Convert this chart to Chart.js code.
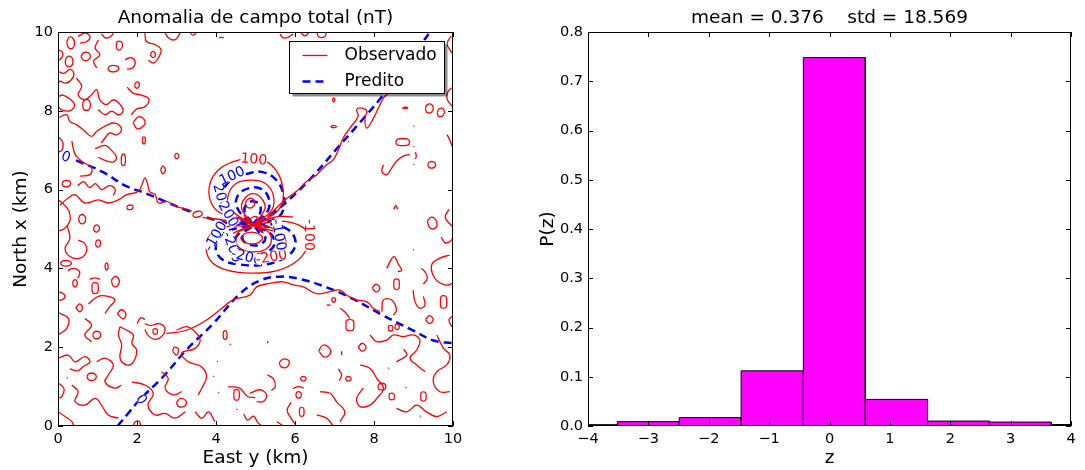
<!DOCTYPE html>
<html>
<head>
<meta charset="utf-8">
<script src="https://cdn.jsdelivr.net/npm/chart.js@4.4.1/dist/chart.umd.min.js"></script>
<style>
    body { margin: 0; background: #fff; overflow: hidden; }
    #wrap { position: relative; width: 1085px; height: 470px; }
    canvas { position: absolute; top: 0; }
</style>
</head>
<body>
<div id="wrap">
    <canvas id="contourChart" width="530" height="470" style="left:0"></canvas>
    <canvas id="histChart" width="555" height="470" style="left:530px"></canvas>
</div>
<script>
// ---- left panel: contour lines (East y, North x in km) ----
const mapTicks = [0, 2, 4, 6, 8, 10];

// observed anomaly contours (red, solid)
const observado = [
    // zero contour west of the source
    [[0.05,5.6],[0.25,5.78],[0.43,5.87],[0.68,5.66],[1.02,5.74],[1.27,5.66],[1.53,5.74],[1.74,5.87],[2.03,5.95],[2.13,6.14],[2.2,6.3],[2.27,6.14],[2.32,5.95],[2.46,5.87],[2.54,5.66],[2.75,5.7],[3.0,5.57],[3.3,5.49],[3.64,5.3],[3.97,5.26],[4.31,5.2],[4.65,5.12]],
    // zero contour north-east
    [[5.3,5.3],[5.7,5.7],[6.04,5.96],[6.3,6.21],[6.55,6.38],[6.8,6.63],[6.97,6.76],[7.1,7.01],[7.22,7.31],[7.39,7.56],[7.6,7.86],[7.56,8.03],[7.69,8.07],[7.82,7.99],[7.77,7.82],[7.82,7.56],[7.99,7.82],[8.11,8.07],[8.24,8.33],[8.36,8.45],[8.5,8.7]],
    // zero contour south
    [[2.74,2.35],[3.25,2.43],[3.76,2.69],[4.1,2.95],[4.43,3.2],[4.86,3.32],[5.03,3.53],[5.37,3.62],[5.7,3.66],[5.96,3.58],[6.21,3.53],[6.55,3.36],[6.89,3.41],[7.14,3.45],[7.31,3.32],[7.56,3.2],[7.82,3.15],[7.99,2.98],[8.15,2.9]],
    // dipole, positive lobe
    [[4.9,5.12],[4.5,5.3],[4.06,5.44],[3.85,5.74],[3.85,6.16],[4.06,6.5],[4.44,6.71],[4.86,6.79],[5.28,6.71],[5.57,6.41],[5.7,5.99],[5.66,5.61],[5.45,5.36],[5.05,5.15]],
    [[4.9,5.12],[4.35,5.52],[4.31,5.86],[4.52,6.16],[4.9,6.24],[5.24,6.16],[5.45,5.86],[5.41,5.48],[5.0,5.14]],
    [[4.92,5.13],[4.65,5.52],[4.73,5.78],[4.94,5.9],[5.15,5.78],[5.24,5.52],[4.98,5.14]],
    [[4.74,5.65],[4.8,5.75],[4.92,5.77],[4.98,5.65],[4.92,5.55],[4.8,5.55],[4.74,5.65]],
    // dipole, negative lobe
    [[4.9,5.08],[4.2,5.05],[3.85,4.85],[3.75,4.5],[3.9,4.15],[4.3,3.95],[4.9,3.88],[5.5,3.93],[6.0,4.15],[6.3,4.5],[6.35,4.85],[6.1,5.1],[5.6,5.2],[5.0,5.1]],
    [[4.9,5.06],[4.45,4.9],[4.3,4.65],[4.4,4.4],[4.7,4.22],[5.1,4.18],[5.5,4.3],[5.75,4.55],[5.7,4.85],[5.35,5.05],[4.95,5.08]],
    [[4.92,5.05],[4.6,4.95],[4.5,4.75],[4.6,4.52],[4.9,4.42],[5.25,4.48],[5.4,4.7],[5.3,4.95],[4.95,5.06]],
    [[4.62,4.77],[4.72,4.88],[4.9,4.92],[5.08,4.88],[5.18,4.77],[5.08,4.66],[4.9,4.62],[4.72,4.66],[4.62,4.77]],
    // crowded lines through the centre
    [[4.55,5.3],[4.8,5.15],[5.1,5.05],[5.45,4.95]],
    [[4.6,4.95],[4.9,5.08],[5.2,5.2],[5.5,5.3]],
    [[4.7,5.35],[4.95,5.1],[5.2,4.9]],
    [[5.25,5.22],[5.6,5.32],[5.95,5.3]],
    [[4.75,5.0],[4.85,5.25],[5.05,5.3],[5.15,5.0]],
    // noise, north-west
    [[0.22,9.72],[0.27,9.86],[0.36,9.86],[0.42,9.72],[0.37,9.59],[0.27,9.6],[0.22,9.72]],
    [[0.51,9.89],[0.68,9.97],[0.81,9.89],[0.73,9.76],[0.56,9.72]],
    [[0.18,9.25],[0.22,9.36],[0.33,9.37],[0.38,9.25],[0.33,9.13],[0.22,9.14],[0.18,9.25]],
    [[0.58,9.38],[0.64,9.47],[0.76,9.48],[0.82,9.38],[0.76,9.29],[0.64,9.29],[0.58,9.38]],
    [[1.02,9.8],[0.94,9.59],[1.06,9.42],[0.9,9.26],[0.98,9.09]],
    [[1.47,9.65],[1.5,9.75],[1.6,9.75],[1.63,9.65],[1.58,9.55],[1.5,9.56],[1.47,9.65]],
    [[1.26,9.07],[1.32,9.14],[1.48,9.14],[1.54,9.07],[1.47,9.0],[1.32,9.0],[1.26,9.07]],
    [[2.2,9.97],[2.24,9.76],[2.46,9.68],[2.61,9.55],[2.54,9.34],[2.41,9.21],[2.29,9.29]],
    [[2.34,9.42],[2.38,9.5],[2.45,9.48],[2.46,9.4],[2.4,9.35],[2.34,9.42]],
    [[1.94,8.65],[1.97,8.72],[2.04,8.72],[2.06,8.65],[2.02,8.58],[1.96,8.59],[1.94,8.65]],
    [[0.47,8.83],[0.6,8.62],[0.51,8.41],[0.68,8.28],[0.85,8.41],[0.98,8.54],[1.06,8.28],[1.23,8.16],[1.4,8.28],[1.57,8.16],[1.65,7.99],[1.53,7.9],[1.36,7.99],[1.19,7.9],[1.02,8.03]],
    [[0.62,8.15],[0.66,8.27],[0.78,8.27],[0.82,8.15],[0.78,8.03],[0.66,8.03],[0.62,8.15]],
    [[0.0,7.82],[0.22,7.9],[0.3,7.73],[0.47,7.65],[0.68,7.48],[0.85,7.35],[0.98,7.48],[1.1,7.56],[1.27,7.65],[1.4,7.69],[1.53,7.65],[1.61,7.52],[1.48,7.39],[1.31,7.44],[1.19,7.31],[1.1,7.18]],
    [[0.94,7.04],[1.19,7.12],[1.36,6.99],[1.48,6.82],[1.4,6.7],[1.19,6.74],[1.02,6.82]],
    [[1.6,6.75],[1.62,6.88],[1.68,6.9],[1.71,6.75],[1.68,6.62],[1.62,6.62],[1.6,6.75]],
    [[2.14,7.25],[2.15,7.33],[2.2,7.33],[2.21,7.25],[2.2,7.17],[2.15,7.17],[2.14,7.25]],
    [[1.74,5.55],[1.78,5.6],[1.88,5.6],[1.9,5.55],[1.86,5.5],[1.77,5.5],[1.74,5.55]],
    [[0.52,5.25],[0.56,5.35],[0.66,5.35],[0.7,5.25],[0.66,5.15],[0.56,5.15],[0.52,5.25]],
    [[0.1,6.15],[0.15,6.22],[0.28,6.22],[0.32,6.15],[0.27,6.08],[0.14,6.08],[0.1,6.15]],
    [[0.0,5.75],[0.15,5.62],[0.28,5.45],[0.3,5.2],[0.15,5.0],[0.0,4.95]],
    [[0.35,7.23],[0.43,6.9],[0.6,6.72],[0.85,6.55],[0.81,6.38],[0.56,6.34]],
    [[0.0,8.35],[0.12,8.4],[0.3,8.3],[0.42,8.15],[0.3,8.0],[0.1,8.02],[0.0,8.1]],
    [[0.9,5.01],[0.94,5.09],[1.02,5.09],[1.05,5.01],[1.0,4.93],[0.93,4.94],[0.9,5.01]],
    [[0.95,4.63],[0.98,4.71],[1.06,4.71],[1.08,4.63],[1.04,4.55],[0.97,4.56],[0.95,4.63]],
    [[0.0,9.55],[0.1,9.5],[0.12,9.4],[0.05,9.3],[0.0,9.28]],
    [[0.0,9.0],[0.15,8.95],[0.3,9.05],[0.4,8.95],[0.35,8.8],[0.2,8.7],[0.05,8.75],[0.0,8.7]],
    [[1.1,9.95],[1.2,9.85],[1.35,9.9],[1.4,10.0]],
    [[1.7,9.3],[1.85,9.35],[1.95,9.25],[1.9,9.1],[1.75,9.05]],
    [[2.7,10.0],[2.8,9.85],[2.95,9.8],[3.05,9.9],[3.1,10.0]],
    [[1.75,8.6],[1.9,8.45],[2.1,8.4],[2.3,8.3],[2.2,8.1],[2.0,8.05],[1.85,7.9]],
    [[1.9,7.7],[2.0,7.55],[2.15,7.6],[2.2,7.75],[2.05,7.85],[1.9,7.7]],
    [[0.0,7.35],[0.12,7.2],[0.1,7.0],[0.0,6.95]],
    [[0.5,6.1],[0.65,6.2],[0.8,6.05],[0.95,6.15],[1.1,6.0],[1.3,6.1],[1.45,6.0],[1.4,5.85]],
    [[2.6,6.5],[2.65,6.6],[2.72,6.5],[2.65,6.4],[2.6,6.5]],
    [[2.95,6.85],[3.0,6.92],[3.06,6.85],[3.0,6.78],[2.95,6.85]],
    // noise, north edge
    [[3.35,9.97],[3.42,9.92],[3.5,9.97]],
    [[4.08,9.86],[4.2,9.86]],
    [[5.62,9.95],[5.7,9.85],[5.85,9.88],[5.95,9.95]],
    [[6.15,9.98],[6.25,9.9],[6.35,9.98]],
    [[6.55,10.0],[6.6,9.88],[6.75,9.88],[6.8,10.0]],
    // noise, north-east
    [[6.95,8.28],[6.97,8.33],[7.01,8.28],[6.97,8.23],[6.95,8.28]],
    [[6.9,7.6],[6.97,7.63],[7.05,7.6],[6.97,7.57],[6.9,7.6]],
    [[7.35,7.21],[7.37,7.23]],
    [[8.72,8.07],[8.78,8.09],[8.85,8.07],[8.78,8.05],[8.72,8.07]],
    [[9.0,7.6],[9.02,7.62]],
    [[9.0,7.08],[9.02,7.1]],
    [[9.3,8.05],[9.34,8.15],[9.46,8.16],[9.5,8.05],[9.45,7.96],[9.34,7.96],[9.3,8.05]],
    [[9.6,7.95],[9.65,8.05],[9.75,8.05],[9.78,7.95],[9.72,7.86],[9.63,7.87],[9.6,7.95]],
    [[10.0,8.6],[9.88,8.5],[9.85,8.3],[9.95,8.15],[10.0,8.1]],
    [[9.95,9.9],[9.85,9.7],[9.95,9.5],[10.0,9.45]],
    [[8.55,7.2],[8.6,7.28],[8.85,7.28],[8.9,7.2],[8.85,7.13],[8.6,7.13],[8.55,7.2]],
    [[8.24,6.63],[8.2,6.46],[8.32,6.38],[8.45,6.55],[8.57,6.72],[8.74,6.85],[8.91,6.89]],
    [[9.36,6.63],[9.4,6.7],[9.52,6.7],[9.56,6.63],[9.52,6.56],[9.4,6.56],[9.36,6.63]],
    [[9.0,6.63],[9.02,6.65]],
    [[9.05,6.95],[9.07,6.85],[9.05,6.78]],
    [[9.85,7.4],[9.92,7.25],[10.0,7.05]],
    [[9.35,5.2],[9.4,5.05],[9.5,5.0],[9.6,5.1],[9.55,5.25],[9.45,5.3],[9.35,5.2]],
    [[9.9,5.5],[9.8,5.3],[9.95,5.1],[10.0,5.05]],
    [[9.7,4.8],[9.8,4.65],[9.95,4.7],[10.0,4.8]],
    [[8.5,5.5],[8.55,5.6],[8.6,5.5]],
    // noise, south-west
    [[0.23,5.1],[0.3,4.76],[0.18,4.51],[0.3,4.3],[0.56,4.26],[0.72,4.43],[0.68,4.63],[0.51,4.72]],
    [[0.06,4.13],[0.12,4.19],[0.28,4.19],[0.34,4.13],[0.28,4.07],[0.12,4.07],[0.06,4.13]],
    [[1.19,4.05],[1.21,4.13],[1.25,4.13],[1.27,4.05],[1.25,3.97],[1.21,3.97],[1.19,4.05]],
    [[0.37,3.62],[0.4,3.7],[0.46,3.7],[0.49,3.62],[0.46,3.54],[0.4,3.54],[0.37,3.62]],
    [[0.86,3.5],[0.88,3.62],[1.0,3.62],[1.02,3.5],[1.0,3.38],[0.88,3.38],[0.86,3.5]],
    [[0.8,3.72],[0.94,3.76],[1.06,3.72]],
    [[0.0,3.4],[0.1,3.38],[0.18,3.3],[0.1,3.2],[0.0,3.2]],
    [[0.77,3.1],[1.02,3.29],[1.27,3.29],[1.44,3.2],[1.31,3.03],[1.19,2.86]],
    [[0.0,2.88],[0.26,2.73],[0.22,2.48],[0.0,2.31]],
    [[0.68,2.73],[0.85,2.56],[0.68,2.31],[0.85,2.14]],
    [[0.88,2.31],[0.92,2.39],[1.04,2.39],[1.08,2.31],[1.04,2.23],[0.92,2.23],[0.88,2.31]],
    [[1.57,2.52],[1.74,2.43],[1.91,2.31],[1.87,2.1],[1.99,1.93],[1.91,1.63],[1.74,1.55],[1.57,1.72],[1.61,2.06],[1.53,2.31],[1.57,2.52]],
    [[2.2,2.6],[2.35,2.55],[2.55,2.6],[2.7,2.5],[2.65,2.3],[2.45,2.2],[2.28,2.3],[2.2,2.45]],
    [[2.4,2.4],[2.42,2.46],[2.5,2.46],[2.52,2.4],[2.5,2.34],[2.42,2.34],[2.4,2.4]],
    [[3.0,2.43],[3.26,2.52],[3.47,2.39],[3.6,2.18],[3.47,1.97],[3.13,1.85],[3.3,1.63],[3.64,1.5],[3.76,1.25],[3.64,0.96],[3.55,0.79]],
    [[0.0,1.72],[0.26,1.8],[0.43,1.63],[0.68,1.76],[0.81,1.63],[0.64,1.51],[0.5,1.4],[0.3,1.45]],
    [[0.73,1.25],[0.78,1.33],[0.92,1.33],[0.97,1.25],[0.92,1.17],[0.78,1.17],[0.73,1.25]],
    [[0.98,1.63],[1.19,1.72],[1.4,1.55],[1.27,1.29],[1.19,1.12],[1.44,0.96],[1.61,1.04]],
    [[0.22,1.21],[0.24,1.23]],
    [[0.35,1.04],[0.51,0.87],[0.43,0.62],[0.68,0.53],[0.94,0.7],[1.1,0.53],[1.27,0.28],[1.53,0.2]],
    [[0.0,0.36],[0.18,0.24],[0.35,0.11],[0.4,0.0]],
    [[0.0,1.1],[0.15,0.95],[0.1,0.75],[0.0,0.7]],
    [[1.87,1.12],[2.2,1.04],[2.41,0.83],[2.28,0.53],[2.46,0.28],[2.71,0.32],[2.96,0.2],[3.22,0.36]],
    [[2.62,1.38],[2.79,1.21],[2.71,0.96],[2.92,0.79],[3.13,0.87]],
    [[1.9,0.0],[1.95,0.1],[2.05,0.12],[2.1,0.0]],
    [[0.25,3.95],[0.4,4.0],[0.55,3.9],[0.5,3.75]],
    [[1.35,3.7],[1.45,3.8],[1.55,3.7],[1.5,3.55],[1.4,3.55],[1.35,3.7]],
    [[0.45,3.0],[0.55,3.1],[0.62,3.0],[0.55,2.9],[0.45,3.0]],
    [[1.5,2.85],[1.6,2.95],[1.72,2.85],[1.65,2.72],[1.5,2.85]],
    [[2.0,2.6],[2.1,2.75],[2.2,2.7]],
    [[2.9,1.9],[2.95,2.0],[3.05,1.95],[3.0,1.8],[2.9,1.9]],
    [[3.0,0.6],[3.1,0.7],[3.25,0.62],[3.2,0.5],[3.05,0.5],[3.0,0.6]],
    [[4.03,1.63],[4.05,1.65]],
    [[3.93,1.25],[3.95,1.27]],
    [[4.06,0.83],[4.08,0.85]],
    [[4.45,0.79],[4.47,0.91],[4.57,0.91],[4.59,0.79],[4.57,0.67],[4.47,0.67],[4.45,0.79]],
    [[4.31,1.0],[4.6,0.96],[4.8,0.75],[5.0,0.72]],
    [[4.52,0.41],[4.54,0.43]],
    [[4.7,0.3],[4.8,0.15],[4.95,0.25],[5.05,0.1],[5.15,0.0]],
    [[3.47,0.36],[3.64,0.2],[3.81,0.36],[3.97,0.11]],
    [[4.18,2.31],[4.2,2.41],[4.26,2.41],[4.28,2.31],[4.26,2.21],[4.2,2.21],[4.18,2.31]],
    [[4.35,2.06],[4.37,2.08]],
    // noise, south-east
    [[5.3,2.1],[5.32,2.15]],
    [[5.6,1.6],[5.7,1.7],[5.85,1.65],[5.8,1.5],[5.65,1.5],[5.6,1.6]],
    [[5.3,1.3],[5.45,1.2],[5.5,1.0],[5.4,0.9]],
    [[5.9,0.6],[5.8,0.4],[5.9,0.2],[6.0,0.05]],
    [[8.99,4.46],[9.01,4.48]],
    [[8.32,4.0],[8.5,4.3],[8.62,4.1],[8.7,3.95],[8.6,3.92]],
    [[8.5,3.6],[8.52,3.72],[8.62,3.72],[8.64,3.6],[8.62,3.48],[8.52,3.48],[8.5,3.6]],
    [[9.92,4.34],[9.67,4.26],[9.46,4.09],[9.54,3.75],[9.8,3.58],[10.0,3.62]],
    [[9.2,4.0],[9.3,3.9],[9.35,3.75],[9.25,3.6]],
    [[9.68,3.15],[9.7,3.29],[9.82,3.29],[9.84,3.15],[9.82,3.01],[9.7,3.01],[9.68,3.15]],
    [[8.99,3.45],[9.04,3.15],[9.16,2.99],[9.29,3.07],[9.25,3.29]],
    [[8.2,2.9],[8.24,3.2],[8.45,3.2],[8.57,2.94],[8.49,2.82]],
    [[7.95,3.5],[8.05,3.6],[8.15,3.5],[8.05,3.4],[7.95,3.5]],
    [[10.0,2.8],[9.9,2.7],[9.95,2.55],[10.0,2.5]],
    [[9.3,2.7],[9.4,2.8],[9.5,2.7],[9.4,2.6],[9.3,2.7]],
    [[7.29,2.56],[7.31,2.68],[7.47,2.68],[7.49,2.56],[7.47,2.44],[7.31,2.44],[7.29,2.56]],
    [[7.14,2.99],[7.26,2.9],[7.39,2.73]],
    [[8.36,2.48],[8.38,2.54],[8.46,2.54],[8.48,2.48],[8.46,2.42],[8.38,2.42],[8.36,2.48]],
    [[8.53,2.52],[8.55,2.58],[8.62,2.58],[8.64,2.52],[8.62,2.46],[8.55,2.46],[8.53,2.52]],
    [[6.8,3.07],[6.9,3.07]],
    [[6.93,3.2],[6.95,3.25],[7.01,3.25],[7.03,3.2],[7.0,3.15],[6.95,3.15],[6.93,3.2]],
    [[7.9,2.31],[8.07,2.14],[8.32,2.18],[8.49,2.31],[8.74,2.27],[8.99,2.31],[9.16,2.18],[9.08,1.93],[8.91,1.72],[9.08,1.55],[9.29,1.38]],
    [[8.57,1.63],[8.83,1.8],[8.75,1.95]],
    [[9.59,2.31],[9.76,1.97],[9.92,1.8],[9.84,1.55],[9.59,1.38],[9.5,1.12],[9.67,0.87],[9.92,0.87]],
    [[7.6,2.0],[7.7,2.1],[7.8,2.0],[7.7,1.9],[7.6,2.0]],
    [[6.6,1.9],[6.7,2.05],[6.85,2.0],[6.9,1.85],[6.75,1.75],[6.6,1.9]],
    [[7.18,1.8],[7.18,1.9]],
    [[8.36,1.46],[8.38,1.48]],
    [[6.14,1.2],[6.17,1.25],[6.25,1.25],[6.28,1.2],[6.25,1.15],[6.17,1.15],[6.14,1.2]],
    [[7.28,1.2],[7.31,1.25],[7.39,1.25],[7.42,1.2],[7.39,1.15],[7.31,1.15],[7.28,1.2]],
    [[7.1,1.45],[7.18,1.3],[7.12,1.15]],
    [[6.63,0.87],[6.89,0.83],[7.05,0.62],[7.26,0.36],[7.14,0.11]],
    [[6.02,0.79],[6.05,0.86],[6.13,0.86],[6.16,0.79],[6.13,0.72],[6.05,0.72],[6.02,0.79]],
    [[5.95,0.95],[6.1,1.0],[6.22,0.96]],
    [[6.11,0.36],[6.13,0.46],[6.21,0.46],[6.23,0.36],[6.21,0.26],[6.13,0.26],[6.11,0.36]],
    [[4.86,0.83],[5.11,0.92],[5.28,0.79],[5.2,0.62],[5.03,0.62]],
    [[7.65,1.55],[7.9,1.46],[8.07,1.21],[8.24,0.96],[8.07,0.7],[7.9,0.53],[7.65,0.49],[7.56,0.7],[7.73,0.96]],
    [[8.1,1.0],[8.13,1.07],[8.27,1.07],[8.3,1.0],[8.27,0.93],[8.13,0.93],[8.1,1.0]],
    [[8.38,0.75],[8.4,0.82],[8.5,0.82],[8.52,0.75],[8.5,0.68],[8.4,0.68],[8.38,0.75]],
    [[8.57,0.45],[8.83,0.36],[9.08,0.53],[9.33,0.36],[9.59,0.24],[9.84,0.36]],
    [[6.55,0.28],[6.8,0.2],[6.97,0.0]],
    [[5.54,0.11],[5.7,0.0]],
    [[9.18,0.75],[9.2,0.85],[9.3,0.85],[9.32,0.75],[9.3,0.65],[9.2,0.65],[9.18,0.75]],
    [[9.16,0.24],[9.18,0.26]],
    [[8.8,0.96],[8.82,0.98]]
];

// predicted anomaly contours (blue, dashed)
const predito = [
    [[0.46,6.74],[1.13,6.45],[1.7,6.1],[2.24,5.9],[2.8,5.66],[3.25,5.48],[3.6,5.35],[4.0,5.22],[4.43,5.13],[4.8,5.1]],
    [[5.1,5.15],[5.5,5.45],[5.87,5.76],[6.46,6.35],[7.05,7.03],[7.65,7.71],[8.16,8.31],[8.66,8.98],[9.17,9.66],[9.42,10.0]],
    [[1.51,0.0],[1.8,0.35],[2.06,0.66],[2.66,1.25],[3.25,1.93],[3.93,2.6],[4.6,3.35],[5.11,3.69],[5.62,3.79],[6.13,3.73],[6.8,3.52],[7.48,3.22],[8.24,2.8],[9.0,2.42],[9.51,2.17],[10.0,2.1]],
    [[4.8,5.12],[4.14,5.57],[4.18,5.99],[4.44,6.28],[4.82,6.41],[5.15,6.45],[5.49,6.28],[5.7,5.91],[5.7,5.48],[5.5,5.25],[5.0,5.12]],
    [[4.85,5.13],[4.52,5.57],[4.56,5.86],[4.82,6.03],[5.11,6.03],[5.32,5.82],[5.32,5.48],[4.98,5.13]],
    [[4.9,5.14],[4.72,5.45],[4.8,5.66],[4.97,5.7],[5.12,5.6],[5.1,5.35],[4.95,5.14]],
    [[4.85,5.08],[4.3,4.95],[4.05,4.75],[4.0,4.45],[4.2,4.2],[4.6,4.1],[5.1,4.08],[5.6,4.2],[5.95,4.45],[6.0,4.75],[5.8,5.0],[5.4,5.12],[4.95,5.1]],
    [[4.88,5.06],[4.55,4.85],[4.48,4.6],[4.65,4.42],[4.95,4.35],[5.3,4.42],[5.48,4.62],[5.38,4.88],[5.0,5.06]],
    [[4.9,5.05],[4.7,4.9],[4.68,4.72],[4.85,4.6],[5.1,4.6],[5.25,4.75],[5.15,4.95],[4.95,5.05]],
    [[4.55,5.15],[4.95,5.1],[5.35,5.05]],
    [[4.8,5.3],[4.95,5.1],[5.1,4.9]]
];

// inline contour labels
const contourLabels = [
    { text: '0', x: 0.2, y: 6.84, series: 'pred' },
    { text: '0', x: 2.12, y: 0.68, series: 'pred' },
    { text: '0', x: 3.52, y: 5.37, series: 'obs' },
    { text: '100', x: 4.96, y: 6.78, series: 'obs' },
    { text: '100', x: 4.4, y: 6.36, series: 'pred' },
    { text: '200', x: 4.13, y: 5.82, series: 'pred' },
    { text: '200', x: 4.32, y: 5.38, series: 'pred' },
    { text: '-100', x: 6.38, y: 4.85, series: 'obs' },
    { text: '-100', x: 3.98, y: 4.82, series: 'pred' },
    { text: '-200', x: 4.42, y: 4.55, series: 'pred' },
    { text: '-200', x: 4.78, y: 4.3, series: 'pred' },
    { text: '-200', x: 5.4, y: 4.3, series: 'obs' },
    { text: '-100', x: 5.6, y: 4.85, series: 'pred' }
];

// ---- right panel: histogram of residuals ----
const binEdges = [-4.54, -3.514, -2.49, -1.464, -0.433, 0.593, 1.624, 2.649, 3.674, 4.70];
const binHeights = [0.0027, 0.0088, 0.017, 0.112, 0.748, 0.054, 0.010, 0.008, 0.003];
const histXTicks = [-4, -3, -2, -1, 0, 1, 2, 3, 4];
const histYTicks = [0.0, 0.1, 0.2, 0.3, 0.4, 0.5, 0.6, 0.7, 0.8];

Chart.defaults.font.family = '"DejaVu Sans", sans-serif';
Chart.defaults.color = '#000';
Chart.defaults.animation = false;

const RED = '#ff0000';
const BLUE = '#0000ff';
const labelAngles = [-20, -55, -75, -5, 25, -75, -60, -90, 60, -70, -15, 10, -80];

// matplotlib style frame with inward ticks on all four sides
const frameTicks = {
    id: 'frameTicks',
    afterDraw(chart) {
        const { ctx, chartArea: a, scales: { x, y } } = chart;
        ctx.save();
        ctx.strokeStyle = '#000';
        ctx.lineWidth = 1;
        ctx.beginPath();
        x.ticks.forEach(t => {
            const px = Math.round(x.getPixelForValue(t.value)) + 0.5;
            ctx.moveTo(px, a.bottom); ctx.lineTo(px, a.bottom - 5);
            ctx.moveTo(px, a.top); ctx.lineTo(px, a.top + 5);
        });
        y.ticks.forEach(t => {
            const py = Math.round(y.getPixelForValue(t.value)) + 0.5;
            ctx.moveTo(a.left, py); ctx.lineTo(a.left + 5, py);
            ctx.moveTo(a.right, py); ctx.lineTo(a.right - 5, py);
        });
        ctx.stroke();
        ctx.strokeRect(Math.round(a.left) + 0.5, Math.round(a.top) + 0.5,
            Math.round(a.width) - 1, Math.round(a.height) - 1);
        ctx.restore();
    }
};

const contourText = {
    id: 'contourText',
    afterDatasetsDraw(chart) {
        const { ctx, scales: { x, y } } = chart;
        ctx.save();
        ctx.font = '14px "DejaVu Sans"';
        ctx.textAlign = 'center';
        ctx.textBaseline = 'middle';
        contourLabels.forEach((lab, i) => {
            const px = x.getPixelForValue(lab.x);
            const py = y.getPixelForValue(lab.y);
            ctx.save();
            ctx.translate(px, py);
            ctx.rotate(-labelAngles[i] * Math.PI / 180);
            const w = ctx.measureText(lab.text).width;
            ctx.fillStyle = '#fff';
            ctx.fillRect(-w / 2, -5, w, 10);
            ctx.fillStyle = lab.series === 'obs' ? RED : BLUE;
            ctx.fillText(lab.text, 0, 1);
            ctx.restore();
        });
        ctx.restore();
    }
};

const legendBox = {
    id: 'legendBox',
    afterDatasetsDraw(chart) {
        const { ctx, chartArea: a } = chart;
        const w = 155, h = 52;
        const left = Math.round(a.right - 9 - w) + 0.5;
        const top = Math.round(a.top + 9) + 0.5;
        ctx.save();
        ctx.fillStyle = 'rgba(0,0,0,0.45)';
        ctx.fillRect(left + 3, top + 3, w, h);
        ctx.fillStyle = '#fff';
        ctx.fillRect(left, top, w, h);
        ctx.strokeStyle = '#000';
        ctx.lineWidth = 1;
        ctx.strokeRect(left, top, w, h);

        ctx.strokeStyle = RED;
        ctx.lineWidth = 1.3;
        ctx.beginPath();
        ctx.moveTo(left + 13, top + 14); ctx.lineTo(left + 38, top + 14);
        ctx.stroke();

        ctx.strokeStyle = BLUE;
        ctx.lineWidth = 2.5;
        ctx.setLineDash([8, 5]);
        ctx.beginPath();
        ctx.moveTo(left + 13, top + 40); ctx.lineTo(left + 38, top + 40);
        ctx.stroke();
        ctx.setLineDash([]);

        ctx.fillStyle = '#000';
        ctx.font = '17px "DejaVu Sans"';
        ctx.textBaseline = 'middle';
        ctx.fillText('Observado', left + 55, top + 14);
        ctx.fillText('Predito', left + 55, top + 40);
        ctx.restore();
    }
};

function axis(min, max, step, titleText, titlePadding, fit, fmt) {
    return {
        type: 'linear',
        min: min,
        max: max,
        offset: false,
        grid: { display: false, drawTicks: false, offset: false },
        border: { display: false },
        ticks: {
            stepSize: step,
            padding: 5,
            maxRotation: 0,
            autoSkip: false,
            font: { size: 14.5 },
            color: '#000',
            callback: fmt
        },
        title: { display: true, text: titleText, font: { size: 18.5 }, color: '#000', padding: titlePadding },
        afterFit: fit
    };
}

function titleOpts(text) {
    return {
        display: true,
        text: text,
        fullSize: false,
        color: '#000',
        font: { size: 18.5, weight: 'normal', lineHeight: 1.2 },
        padding: { top: 7, bottom: 2.8 }
    };
}

// ---- contour map ----
const mapSets = [];
observado.forEach((path, i) => {
    mapSets.push({
        label: i === 0 ? 'Observado' : '',
        data: path.map(([x, y]) => ({ x, y })),
        showLine: true,
        borderColor: RED,
        borderWidth: 1.3,
        pointRadius: 0,
        tension: 0.4,
        clip: 0
    });
});
predito.forEach((path, i) => {
    mapSets.push({
        label: i === 0 ? 'Predito' : '',
        data: path.map(([x, y]) => ({ x, y })),
        showLine: true,
        borderColor: BLUE,
        borderWidth: 2.5,
        borderDash: [8, 5],
        pointRadius: 0,
        tension: 0.4,
        clip: 0
    });
});

new Chart(document.getElementById('contourChart'), {
    type: 'scatter',
    data: { datasets: mapSets },
    options: {
        responsive: false,
        events: [],
        layout: { padding: { left: 0, right: 77, top: 0, bottom: 0 } },
        plugins: {
            legend: { display: false },
            tooltip: { enabled: false },
            title: titleOpts('Anomalia de campo total (nT)')
        },
        scales: {
            x: axis(mapTicks[0], mapTicks[mapTicks.length - 1], 2, 'East y (km)',
                { top: 0, bottom: 1 }, s => { s.height = 44; }, v => v),
            y: axis(mapTicks[0], mapTicks[mapTicks.length - 1], 2, 'North x (km)',
                { top: 10, bottom: 0 }, s => { s.width = 58; }, v => v)
        }
    },
    plugins: [contourText, legendBox, frameTicks]
});

// ---- histogram: one closed outline per bin ----
const minus = v => (v < 0 ? '\u2212' + Math.abs(v) : String(v));
const histSets = binHeights.map((h, i) => ({
    data: [
        { x: binEdges[i], y: 0 },
        { x: binEdges[i], y: h },
        { x: binEdges[i + 1], y: h },
        { x: binEdges[i + 1], y: 0 }
    ],
    showLine: true,
    fill: 'origin',
    backgroundColor: '#ff00ff',
    borderColor: '#000',
    borderWidth: 1,
    pointRadius: 0,
    tension: 0,
    clip: 0
}));

new Chart(document.getElementById('histChart'), {
    type: 'scatter',
    data: { datasets: histSets },
    options: {
        responsive: false,
        events: [],
        layout: { padding: { left: 0, right: 14, top: 0, bottom: 0 } },
        plugins: {
            legend: { display: false },
            tooltip: { enabled: false },
            title: titleOpts('mean = 0.376    std = 18.569')
        },
        scales: {
            x: axis(histXTicks[0], histXTicks[histXTicks.length - 1], 1, 'z',
                { top: 0, bottom: 1 }, s => { s.height = 44; }, minus),
            y: axis(histYTicks[0], histYTicks[histYTicks.length - 1], 0.1, 'P(z)',
                { top: 7, bottom: 0 }, s => { s.width = 58; }, v => v.toFixed(1))
        }
    },
    plugins: [frameTicks]
});
</script>
</body>
</html>
